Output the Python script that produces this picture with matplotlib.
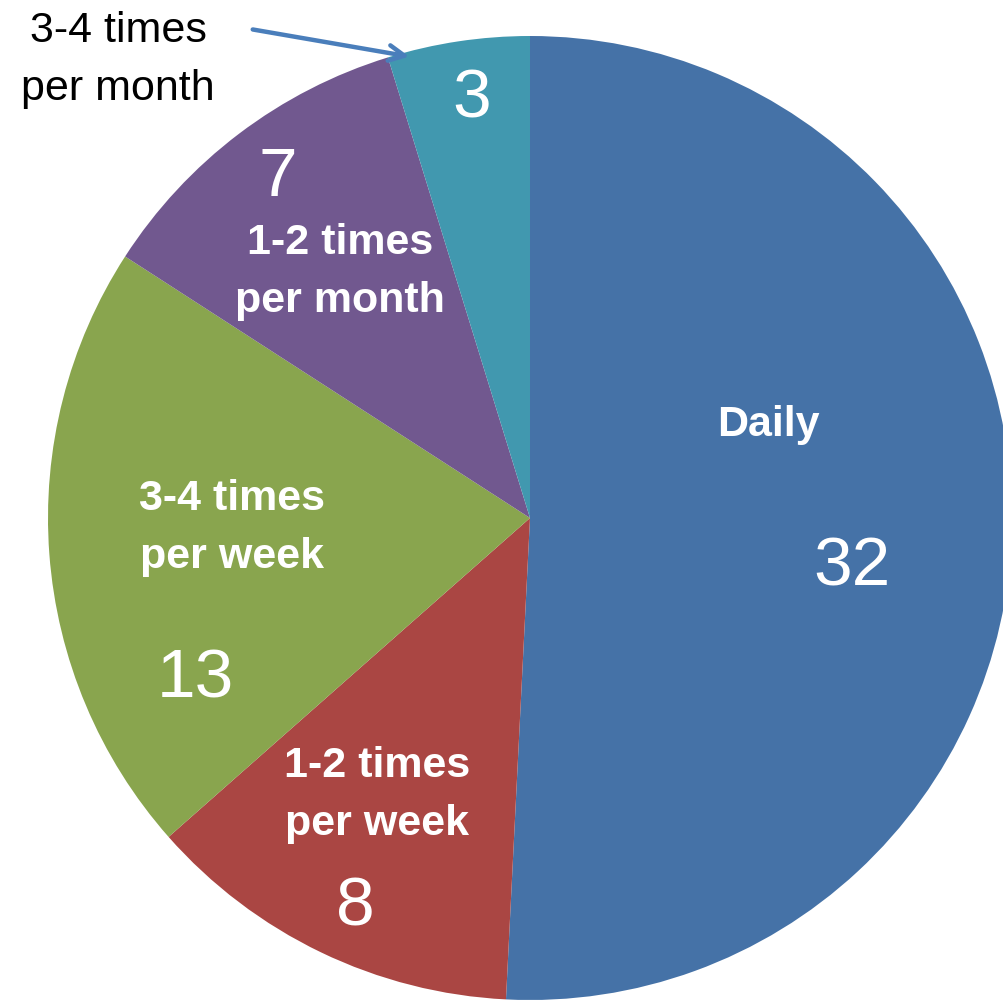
import matplotlib.pyplot as plt

labels = ["Daily", "1-2 times\nper week", "3-4 times\nper week", "1-2 times\nper month", "3-4 times\nper month"]
values = [32, 8, 13, 7, 3]
colors = ["#4572A7", "#AA4643", "#89A54E", "#71588F", "#4198AF"]

# pixel geometry of the pie in the reference
W, H = 1004, 1000
CX, CY, R = 530, 518, 482

def px(x, y):
    return ((x - CX) / R, (CY - y) / R)

FAM = ["Liberation Sans Narrow", "Liberation Sans", "DejaVu Sans"]

fig = plt.figure(figsize=(W / 100, H / 100), dpi=100)
ax = fig.add_axes([0, 0, 1, 1])
ax.pie(values, colors=colors, startangle=90, counterclock=False, radius=1,
       wedgeprops=dict(linewidth=0))
ax.set_xlim(-CX / R, (W - CX) / R)
ax.set_ylim(-(H - CY) / R, CY / R)
ax.set_aspect("equal")
ax.axis("off")

# category label / value positions (pixels in reference)
label_pos = [(768, 425), (377, 795), (232, 528), (340, 272)]
value_pos = [(852, 567), (355, 908), (195, 680), (278, 178), (472, 100)]

for lab, (x, y) in zip(labels[:4], label_pos):
    ax.text(*px(x, y), lab, color="white", fontsize=31, fontweight="bold",
            family=FAM, ha="center", va="center", linespacing=1.55)
for v, (x, y) in zip(values, value_pos):
    ax.text(*px(x, y), str(v), color="white", fontsize=50,
            family=FAM, ha="center", va="center")

ax.text(*px(118, 60), labels[4], color="black", fontsize=31,
        family=FAM, ha="center", va="center", linespacing=1.55)
ax.annotate("", xy=px(412, 57), xytext=px(250, 29),
            arrowprops=dict(arrowstyle="->", color="#4A7EBB", lw=3.2,
                            mutation_scale=28))

fig.savefig("out.png", dpi=100)
